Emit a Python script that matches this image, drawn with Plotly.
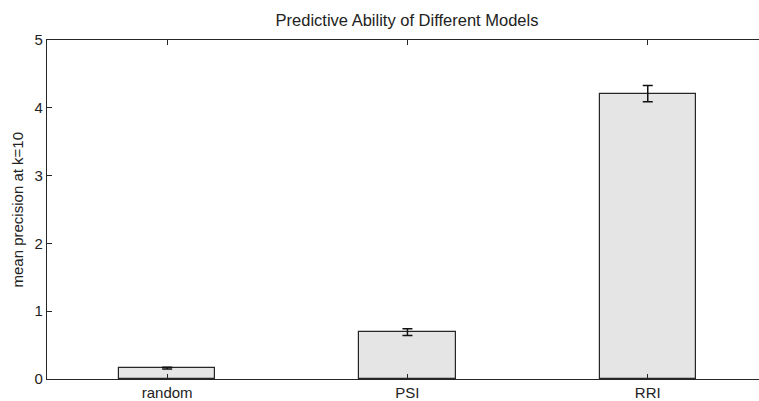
import plotly.graph_objects as go

categories = ["random", "PSI", "RRI"]
x_pos = [1, 2, 3]
means = [0.16, 0.69, 4.21]
errors = [0.012, 0.05, 0.12]
y_ticks = [0, 1, 2, 3, 4, 5]

font = "Liberation Sans, Arial, sans-serif"
L, T, B = 47, 40, 22
W, H = 759, 401
plot_w = W - L
px_per_unit = 240.3

fig = go.Figure()
fig.add_trace(go.Bar(
    x=x_pos, y=means, width=0.4,
    marker=dict(color="#e5e5e5", line=dict(color="#262626", width=1.2)),
    error_y=dict(type="data", array=errors, visible=True, color="#111111", thickness=1.5, width=5),
    showlegend=False,
))

fig.update_layout(
    width=W, height=H,
    margin=dict(l=L, r=0, t=T, b=B),
    paper_bgcolor="white", plot_bgcolor="white",
    bargap=0,
    title=dict(text="Predictive Ability of Different Models", x=(47 + 767) / 2 / W, xanchor="center",
               y=1 - 20 / H, yanchor="middle", automargin=False,
               font=dict(family=font, size=16.5, color="#222222")),
    font=dict(family=font, size=15, color="#222222"),
    annotations=[dict(
        text="mean precision at k=10", textangle=-90,
        xref="paper", yref="paper", x=(17 - L) / plot_w, y=0.5,
        xanchor="center", yanchor="middle", showarrow=False,
        font=dict(family=font, size=15, color="#222222"),
    )],
)
fig.update_xaxes(
    range=[0.5, 0.5 + plot_w / px_per_unit],
    tickvals=x_pos, ticktext=categories,
    showline=True, linecolor="#262626", linewidth=1.2, mirror="ticks",
    ticks="inside", ticklen=5, tickcolor="#262626",
    showgrid=False, zeroline=False, automargin=False,
)
fig.update_yaxes(
    range=[0, 5], tickvals=y_ticks,
    showline=True, linecolor="#262626", linewidth=1.2, mirror=False,
    ticks="inside", ticklen=5, tickcolor="#262626",
    showgrid=False, zeroline=False, automargin=False,
)
fig.write_html("out.html", config={"displayModeBar": False},
               post_script="document.body.style.margin='0';document.body.style.padding='0';")
